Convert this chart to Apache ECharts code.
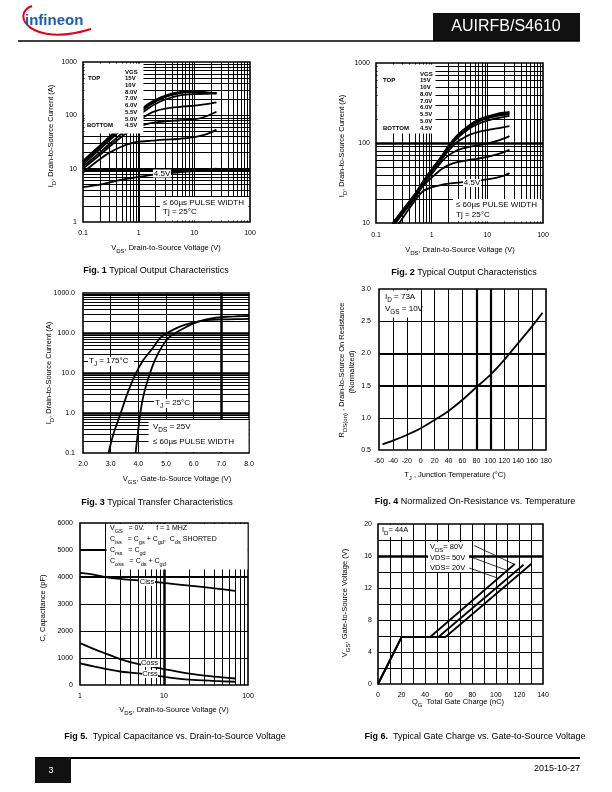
<!DOCTYPE html>
<html><head><meta charset="utf-8">
<script src="https://cdn.jsdelivr.net/npm/echarts@6/dist/echarts.min.js"></script>
<style>html,body{margin:0;padding:0;background:#fff}#c{width:612px;height:792px}</style>
</head><body><div id="c"></div>
<script>
// ================= DATA =================
// Fig 1 – Typical Output Characteristics (Tj = 25°C)
const fig1_vds = [0.1,0.2,0.3,0.5,0.7,1,1.5,2,3,5,7,10,15,20,25];
const fig1_id_15V  = [14,27,40,64,88,120,165,195,235,268,280,280,272,265,260];
const fig1_id_10V  = [13.5,26,38,61,84,115,158,188,228,262,276,278,270,264,259];
const fig1_id_8V   = [13,25,37,59,81,110,150,180,220,255,270,274,268,262,258];
const fig1_id_7V   = [12,23,34,55,75,100,136,163,198,232,245,250,252,255,257];
const fig1_id_6V   = [11,20,29,46,62,80,105,120,133,143,148,152,160,168,175];
const fig1_id_5_5V = [10,18,26,40,52,62,70,74,77,80,82,84,93,105,117];
const fig1_id_5V   = [8.5,15,20,26,29.5,32,33,34,35,36,37.5,39,43,48,54];
const fig1_id_4_5V = [4.5,5,5.5,6.2,6.6,7,7.5,7.8,8.1,8.5,8.8,9,9.4,9.8,10];
const fig1_xTicks = [0.1,1,10,100];   const fig1_xTickLabels = ['0.1','1','10','100'];
const fig1_yTicks = [1,10,100,1000];  const fig1_yTickLabels = ['1','10','100','1000'];

// Fig 2 – Typical Output Characteristics
const fig2_vds = [0.2,0.3,0.5,0.7,1,1.5,2,3,5,7,10,15,20,25];
const fig2_id_15V  = [10,14.5,23,33,47,68,92,128,172,197,215,232,240,245];
const fig2_id_10V  = [10,14.3,22.7,32.5,46,67,90,125,168,192,210,226,233,238];
const fig2_id_8V   = [9.8,14,22.3,32,45.5,66,88,122,163,186,203,218,225,230];
const fig2_id_7V   = [9.7,13.8,22,31.5,45,65,86,118,155,175,190,205,212,218];
const fig2_id_6V   = [9.5,13.5,21.5,31,44,62,80,105,128,138,145,152,158,163];
const fig2_id_5_5V = [9.3,13.2,21,30,41,58,70,82,90,94,98,106,114,122];
const fig2_id_5V   = [9,13,20.5,29,37,47,53,58,62,64,67,72,77,82];
const fig2_id_4_5V = [7.5,11.5,19,25,28,30,31,32,33,34,35,37,39,42];
const fig2_xTicks = [0.1,1,10,100];  const fig2_xTickLabels = ['0.1','1','10','100'];
const fig2_yTicks = [10,100,1000];   const fig2_yTickLabels = ['10','100','1000'];

// Fig 3 – Typical Transfer Characteristics
const fig3_vgs_175C = [2.92,3.1,3.34,3.6,3.88,4.18,4.5,4.84,5.5,6.0,6.47,7.0,7.5,8.0];
const fig3_id_175C  = [0.1,0.3,0.89,3,8.9,21,40,81,144,185,211,218,222,225];
const fig3_vgs_25C  = [3.9,3.98,4.06,4.2,4.4,4.6,4.85,5.14,5.75,6.2,6.7,7.2,7.6,8.0];
const fig3_id_25C   = [0.1,0.3,0.89,3,8.9,21,45,81,144,195,234,255,262,266];
const fig3_yTicks = [0.1,1,10,100,1000]; const fig3_yTickLabels = ['0.1','1.0','10.0','100.0','1000.0'];

// Fig 4 – Normalized On-Resistance vs. Temperature
const fig4_tj   = [-55,-40,-20,0,20,40,60,80,100,120,140,160,175];
const fig4_rdson = [0.588,0.645,0.733,0.837,0.967,1.107,1.28,1.475,1.667,1.9,2.16,2.42,2.63];

// Fig 5 – Typical Capacitance vs. Drain-to-Source Voltage
const fig5_vds  = [1,1.5,2,3,5,10,20,40,70];
const fig5_ciss = [4150,4080,4000,3930,3870,3780,3680,3580,3490];
const fig5_coss = [1550,1320,1170,960,770,590,420,310,240];
const fig5_crss = [800,680,600,500,430,305,200,150,120];
const fig5_xTicks = [1,10,100]; const fig5_xTickLabels = ['1','10','100'];

// Fig 6 – Typical Gate Charge vs. Gate-to-Source Voltage
const fig6_qg_vds20 = [0,20,44,116];   const fig6_vgs_vds20 = [0,5.85,5.85,15.0];
const fig6_qg_vds50 = [0,20,51,123.5]; const fig6_vgs_vds50 = [0,5.85,5.85,14.9];
const fig6_qg_vds80 = [0,20,57,130];   const fig6_vgs_vds80 = [0,5.85,5.85,15.0];
const fig6_leaders = [[[81.7,17.3],[116.5,14.9]],[[78.3,15.9],[110.5,14.15]],[[77.5,14.5],[100.4,13.3]]];

// ================= HELPERS =================
const F = '"Liberation Sans", Arial, Helvetica, sans-serif';
const pair = (xs, ys) => xs.map((x, i) => [x, ys[i]]);
const logFmt = (ticks, labels) => (v) => {
  const i = ticks.findIndex(t => Math.abs(Math.log10(t) - Math.log10(v)) < 1e-6);
  return i >= 0 ? labels[i] : '';
};
function logMinor(e0, e1) { // gridline positions 2..9 x 10^e
  const out = [];
  for (let e = e0; e <= e1; e++) for (let k = 2; k <= 9; k++) out.push(+(k * Math.pow(10, e)).toPrecision(6));
  return out;
}
function gridSeries(idx, xs, ys, thick) {
  thick = thick || {};
  const d = [];
  xs.forEach(v => d.push({ xAxis: v, lineStyle: { width: (thick.x && thick.x[v]) || 1 } }));
  ys.forEach(v => d.push({ yAxis: v, lineStyle: { width: (thick.y && thick.y[v]) || 1 } }));
  return {
    type: 'line', xAxisIndex: idx, yAxisIndex: idx, data: [], silent: true, z: 1,
    markLine: { silent: true, symbol: ['none', 'none'], label: { show: false }, animation: false,
      lineStyle: { color: '#000', type: 'solid', width: 1 }, emphasis: { disabled: true }, data: d }
  };
}
function curve(idx, data, opts) {
  return Object.assign({
    type: 'line', xAxisIndex: idx, yAxisIndex: idx, data: data, showSymbol: false, symbol: 'none',
    smooth: 0.3, lineStyle: { color: '#000', width: 1.8 }, z: 3, animation: false, silent: true
  }, opts || {});
}
function richSet(fs) {
  return {
    n: { fontSize: fs, fontFamily: F, lineHeight: fs + 5, fill: '#000' },
    s: { fontSize: fs * 0.8, fontFamily: F, lineHeight: fs * 0.8, verticalAlign: 'bottom', fill: '#000' },
    b: { fontSize: fs, fontFamily: F, fontWeight: 'bold', lineHeight: fs + 5, fill: '#000' }
  };
}
function T(x, y, text, fs, opts) {
  opts = opts || {};
  return {
    type: 'text', x: x, y: y, rotation: opts.rot || 0, z: 20, silent: true,
    style: Object.assign({ text: text, rich: richSet(fs), fontSize: fs, fontFamily: F, fill: '#000',
      align: opts.align || 'left', verticalAlign: 'middle' }, opts.style || {})
  };
}
function R(x, y, w, h, fill, z) {
  return { type: 'rect', shape: { x: x, y: y, width: w, height: h }, z: z || 15, silent: true,
    style: { fill: fill || '#fff', stroke: null } };
}

// ================= AXES =================
const axLbl = (m, fmt) => ({ fontSize: 7, color: '#000', fontFamily: F, margin: m, formatter: fmt, showMinLabel: true, showMaxLabel: true });
const baseAx = { axisLine: { show: false }, axisTick: { show: false }, splitLine: { show: false } };
const grids = [
  { left: 83, top: 62, width: 167, height: 160 },
  { left: 376, top: 63, width: 167, height: 160 },
  { left: 83, top: 293, width: 166, height: 160 },
  { left: 379, top: 289, width: 167, height: 161 },
  { left: 80, top: 523, width: 168, height: 162 },
  { left: 378, top: 524, width: 165, height: 160 }
].map(g => Object.assign({ show: true, borderColor: '#000', borderWidth: 1.6, backgroundColor: 'transparent', containLabel: false }, g));

const xAxes = [
  Object.assign({ gridIndex: 0, type: 'log', logBase: 10, min: 0.1, max: 100, axisLabel: axLbl(8, logFmt(fig1_xTicks, fig1_xTickLabels)) }, baseAx),
  Object.assign({ gridIndex: 1, type: 'log', logBase: 10, min: 0.1, max: 100, axisLabel: axLbl(9, logFmt(fig2_xTicks, fig2_xTickLabels)) }, baseAx),
  Object.assign({ gridIndex: 2, type: 'value', min: 2, max: 8, interval: 1, axisLabel: axLbl(8, v => v.toFixed(1)) }, baseAx),
  Object.assign({ gridIndex: 3, type: 'value', min: -60, max: 180, interval: 20, axisLabel: axLbl(8, v => String(v)) }, baseAx),
  Object.assign({ gridIndex: 4, type: 'log', logBase: 10, min: 1, max: 100, axisLabel: axLbl(8, logFmt(fig5_xTicks, fig5_xTickLabels)) }, baseAx),
  Object.assign({ gridIndex: 5, type: 'value', min: 0, max: 140, interval: 20, axisLabel: axLbl(8, v => String(v)) }, baseAx)
];
const yAxes = [
  Object.assign({ gridIndex: 0, type: 'log', logBase: 10, min: 1, max: 1000, axisLabel: axLbl(6, logFmt(fig1_yTicks, fig1_yTickLabels)) }, baseAx),
  Object.assign({ gridIndex: 1, type: 'log', logBase: 10, min: 10, max: 1000, axisLabel: axLbl(6, logFmt(fig2_yTicks, fig2_yTickLabels)) }, baseAx),
  Object.assign({ gridIndex: 2, type: 'log', logBase: 10, min: 0.1, max: 1000, axisLabel: axLbl(8, logFmt(fig3_yTicks, fig3_yTickLabels)) }, baseAx),
  Object.assign({ gridIndex: 3, type: 'value', min: 0.5, max: 3.0, interval: 0.5, axisLabel: axLbl(8, v => v.toFixed(1)) }, baseAx),
  Object.assign({ gridIndex: 4, type: 'value', min: 0, max: 6000, interval: 1000, axisLabel: axLbl(7, v => String(v)) }, baseAx),
  Object.assign({ gridIndex: 5, type: 'value', min: 0, max: 20, interval: 4, axisLabel: axLbl(6, v => String(v)) }, baseAx)
];

// ================= SERIES =================
const series = [];
// gridlines
series.push(gridSeries(0, logMinor(-1, 1).concat([1, 10]), logMinor(0, 2).concat([10, 100]), { x: { 1: 2 }, y: { 10: 2.2, 9: 2 } }));
series.push(gridSeries(1, logMinor(-1, 1).concat([1, 10]), logMinor(1, 2).concat([100]), { y: { 100: 2.5 } }));
series.push(gridSeries(2, [3, 4, 5, 6, 7], logMinor(-1, 2).concat([1, 10, 100]), { x: { 7: 2.5 }, y: { 1: 2.5, 10: 2.5, 100: 2.5, 900: 2 } }));
series.push(gridSeries(3, [-40, -20, 0, 20, 40, 60, 80, 100, 120, 140, 160], [1.0, 1.5, 2.0, 2.5], { x: { 80: 2.2, 100: 2.2 }, y: { 1.5: 2.2, 2: 2.2 } }));
series.push(gridSeries(4, logMinor(0, 1).concat([10]), [1000, 2000, 3000, 4000, 5000], { x: { 10: 2.5 }, y: { 4000: 2.2, 5000: 2.2 } }));
series.push(gridSeries(5, [10, 20, 30, 40, 50, 60, 70, 80, 90, 100, 110, 120, 130], [2, 4, 6, 8, 10, 12, 14, 16, 18], { y: { 16: 2.5 } }));

// Fig 1 curves
[fig1_id_15V, fig1_id_10V, fig1_id_8V, fig1_id_7V, fig1_id_6V, fig1_id_5_5V, fig1_id_5V, fig1_id_4_5V]
  .forEach(a => series.push(curve(0, pair(fig1_vds, a))));
// Fig 2 curves
[fig2_id_15V, fig2_id_10V, fig2_id_8V, fig2_id_7V, fig2_id_6V, fig2_id_5_5V, fig2_id_5V, fig2_id_4_5V]
  .forEach(a => series.push(curve(1, pair(fig2_vds, a))));
// Fig 3
series.push(curve(2, pair(fig3_vgs_175C, fig3_id_175C)));
series.push(curve(2, pair(fig3_vgs_25C, fig3_id_25C)));
// Fig 4
series.push(curve(3, pair(fig4_tj, fig4_rdson)));
// Fig 5
series.push(curve(4, pair(fig5_vds, fig5_ciss)));
series.push(curve(4, pair(fig5_vds, fig5_coss)));
series.push(curve(4, pair(fig5_vds, fig5_crss)));
// Fig 6
series.push(curve(5, pair(fig6_qg_vds20, fig6_vgs_vds20), { smooth: false }));
series.push(curve(5, pair(fig6_qg_vds50, fig6_vgs_vds50), { smooth: false }));
series.push(curve(5, pair(fig6_qg_vds80, fig6_vgs_vds80), { smooth: false }));
series.push({
  type: 'line', xAxisIndex: 5, yAxisIndex: 5, data: [], silent: true, z: 25,
  markLine: { silent: true, symbol: ['none', 'none'], label: { show: false }, animation: false,
    lineStyle: { color: '#000', type: 'solid', width: 0.8 },
    data: fig6_leaders.map(l => [{ coord: l[0] }, { coord: l[1] }]) }
});

// ================= GRAPHIC (page text) =================
const g = [];
// header
g.push({ type: 'bezierCurve', z: 20, silent: true, shape: { x1: 32, y1: 6, cpx1: 10, cpy1: 14, cpx2: 30, cpy2: 48, x2: 91, y2: 29 }, style: { stroke: '#e2001a', lineWidth: 2, fill: null } });
g.push(T(25, 21, 'infineon', 15, { style: { fill: '#1b5faa', fontWeight: 'bold', rich: null } }));
g.push({ type: 'rect', z: 20, silent: true, shape: { x: 433, y: 13, width: 147, height: 28 }, style: { fill: '#111' } });
g.push(T(506, 27, 'AUIRFB/S4610', 16, { align: 'center', style: { fill: '#fff', rich: null } }));
g.push({ type: 'line', z: 20, silent: true, shape: { x1: 18, y1: 41, x2: 580, y2: 41 }, style: { stroke: '#000', lineWidth: 1.5 } });
// footer
g.push({ type: 'line', z: 20, silent: true, shape: { x1: 35, y1: 758, x2: 580, y2: 758 }, style: { stroke: '#000', lineWidth: 2 } });
g.push({ type: 'rect', z: 20, silent: true, shape: { x: 35, y: 758, width: 36, height: 25 }, style: { fill: '#111' } });
g.push(T(51, 771, '3', 9, { align: 'center', style: { fill: '#fff', rich: null } }));
g.push(T(580, 769, '2015-10-27', 9, { align: 'right', style: { rich: null } }));

// ---- Fig 1 annotations
g.push(R(84.5, 63.5, 59, 70));
g.push(T(125, 72, 'VGS', 6, { style: { fontWeight: 'bold' } }));
['15V', '10V', '8.0V', '7.0V', '6.0V', '5.5V', '5.0V', '4.5V'].forEach((s, i) => g.push(T(125, 78.5 + i * 6.75, s, 6, { style: { fontWeight: 'bold' } })));
g.push(T(88, 78.5, 'TOP', 6, { style: { fontWeight: 'bold' } }));
g.push(T(87, 125.7, 'BOTTOM', 6, { style: { fontWeight: 'bold' } }));
g.push(R(153, 169.5, 18, 8));
g.push(T(162, 173.5, '4.5V', 8, { align: 'center' }));
g.push(R(160, 197, 88.5, 23.5));
g.push(T(163, 202.5, '≤ 60µs PULSE WIDTH', 8));
g.push(T(163, 212, 'Tj = 25°C', 8));
g.push(T(166, 248, '{n|V}{s|DS}{n|, Drain-to-Source Voltage (V)}', 7.5, { align: 'center' }));
g.push(T(51, 136, '{n|I}{s|D}{n|, Drain-to-Source Current (A)}', 7.5, { align: 'center', rot: Math.PI / 2 }));
g.push(T(156, 271, '{b|Fig. 1} {n|Typical Output Characteristics}', 9, { align: 'center' }));

// ---- Fig 2 annotations
g.push(R(377.5, 64.5, 58, 69));
g.push(T(420, 74, 'VGS', 6, { style: { fontWeight: 'bold' } }));
['15V', '10V', '8.0V', '7.0V', '6.0V', '5.5V', '5.0V', '4.5V'].forEach((s, i) => g.push(T(420, 80.5 + i * 6.8, s, 6, { style: { fontWeight: 'bold' } })));
g.push(T(383, 80.5, 'TOP', 6, { style: { fontWeight: 'bold' } }));
g.push(T(383, 128, 'BOTTOM', 6, { style: { fontWeight: 'bold' } }));
g.push(R(463, 179, 18, 8));
g.push(T(472, 182.5, '4.5V', 8, { align: 'center' }));
g.push(R(453, 199, 88.5, 22.5));
g.push(T(456, 205, '≤ 60µs PULSE WIDTH', 8));
g.push(T(456, 214.5, 'Tj = 25°C', 8));
g.push(T(460, 250, '{n|V}{s|DS}{n|, Drain-to-Source Voltage (V)}', 7.5, { align: 'center' }));
g.push(T(342, 146, '{n|I}{s|D}{n|, Drain-to-Source Current (A)}', 7.5, { align: 'center', rot: Math.PI / 2 }));
g.push(T(464, 273, '{b|Fig. 2} {n|Typical Output Characteristics}', 9, { align: 'center' }));

// ---- Fig 3 annotations
g.push(R(88, 357, 46, 9));
g.push(T(89, 361, '{n|T}{s|J}{n| = 175°C}', 8));
g.push(R(154, 399, 39, 9));
g.push(T(155, 403, '{n|T}{s|J}{n| = 25°C}', 8));
g.push(R(148.5, 420, 100, 32));
g.push(T(153, 427, '{n|V}{s|DS}{n| = 25V}', 8));
g.push(T(153, 442, '≤ 60µs PULSE WIDTH', 8));
g.push(T(177, 479, '{n|V}{s|GS}{n|, Gate-to-Source Voltage (V)}', 7.5, { align: 'center' }));
g.push(T(49, 373, '{n|I}{s|D}{n|, Drain-to-Source Current (A)}', 7.5, { align: 'center', rot: Math.PI / 2 }));
g.push(T(157, 503, '{b|Fig. 3} {n|Typical Transfer Characteristics}', 9, { align: 'center' }));

// ---- Fig 4 annotations
g.push(R(380.5, 290.5, 40, 27));
g.push(T(385, 297, '{n|I}{s|D}{n| = 73A}', 8));
g.push(T(385, 309, '{n|V}{s|GS}{n| = 10V}', 8));
g.push(T(455, 475, '{n|T}{s|J}{n| , Junction Temperature (°C)}', 7.5, { align: 'center' }));
g.push(T(342, 370, '{n|R}{s|DS(on)}{n| , Drain-to-Source On Resistance}', 7.5, { align: 'center', rot: Math.PI / 2 }));
g.push(T(352, 372, '(Normalized)', 7.5, { align: 'center', rot: Math.PI / 2 }));
g.push(T(475, 502, '{b|Fig. 4} {n|Normalized On-Resistance vs. Temperature}', 9, { align: 'center' }));

// ---- Fig 5 annotations
g.push(R(106.5, 524, 141, 45.5));
g.push(T(110, 528, '{n|V}{s|GS}{n|   = 0V.      f = 1 MHZ}', 7));
g.push(T(110, 539, '{n|C}{s|iss}{n|   = C}{s|gs}{n| + C}{s|gd}{n|,  C}{s|ds}{n| SHORTED}', 7));
g.push(T(110, 550, '{n|C}{s|rss}{n|   = C}{s|gd}', 7));
g.push(T(110, 561, '{n|C}{s|oss}{n|   = C}{s|ds}{n| + C}{s|gd}', 7));
g.push(R(139, 578, 16, 8));
g.push(T(147, 582, 'Ciss', 7.5, { align: 'center' }));
g.push(R(141, 659, 17, 8));
g.push(T(149.5, 662.5, 'Coss', 7.5, { align: 'center' }));
g.push(R(142, 670, 16, 8));
g.push(T(150, 674, 'Crss', 7.5, { align: 'center' }));
g.push(T(174, 710, '{n|V}{s|DS}{n|, Drain-to-Source Voltage (V)}', 7.5, { align: 'center' }));
g.push(T(43, 608, 'C, Capacitance (pF)', 7.5, { align: 'center', rot: Math.PI / 2 }));
g.push(T(175, 737, '{b|Fig 5.}{n|  Typical Capacitance vs. Drain-to-Source Voltage}', 9, { align: 'center' }));

// ---- Fig 6 annotations
g.push(R(379, 525, 30, 12));
g.push(T(382, 530, '{n|I}{s|D}{n|= 44A}', 7.5));
g.push(R(428, 542, 41, 30));
g.push(T(430, 547, '{n|V}{s|DS}{n|= 80V}', 7.5));
g.push(T(430, 558, 'VDS= 50V', 7.5));
g.push(T(430, 568, 'VDS= 20V', 7.5));
g.push(T(458, 702, '{n|Q}{s|G}{n|  Total Gate Charge (nC)}', 7.5, { align: 'center' }));
g.push(T(345, 603, '{n|V}{s|GS}{n|, Gate-to-Source Voltage (V)}', 7.5, { align: 'center', rot: Math.PI / 2 }));
g.push(T(475, 737, '{b|Fig 6.}{n|  Typical Gate Charge vs. Gate-to-Source Voltage}', 9, { align: 'center' }));

// ================= CHART =================
const chart = echarts.init(document.getElementById('c'), null, { renderer: 'canvas' });
chart.setOption({
  backgroundColor: '#fff',
  animation: false,
  grid: grids,
  xAxis: xAxes,
  yAxis: yAxes,
  series: series,
  graphic: { elements: g }
});
</script>
</body></html>
